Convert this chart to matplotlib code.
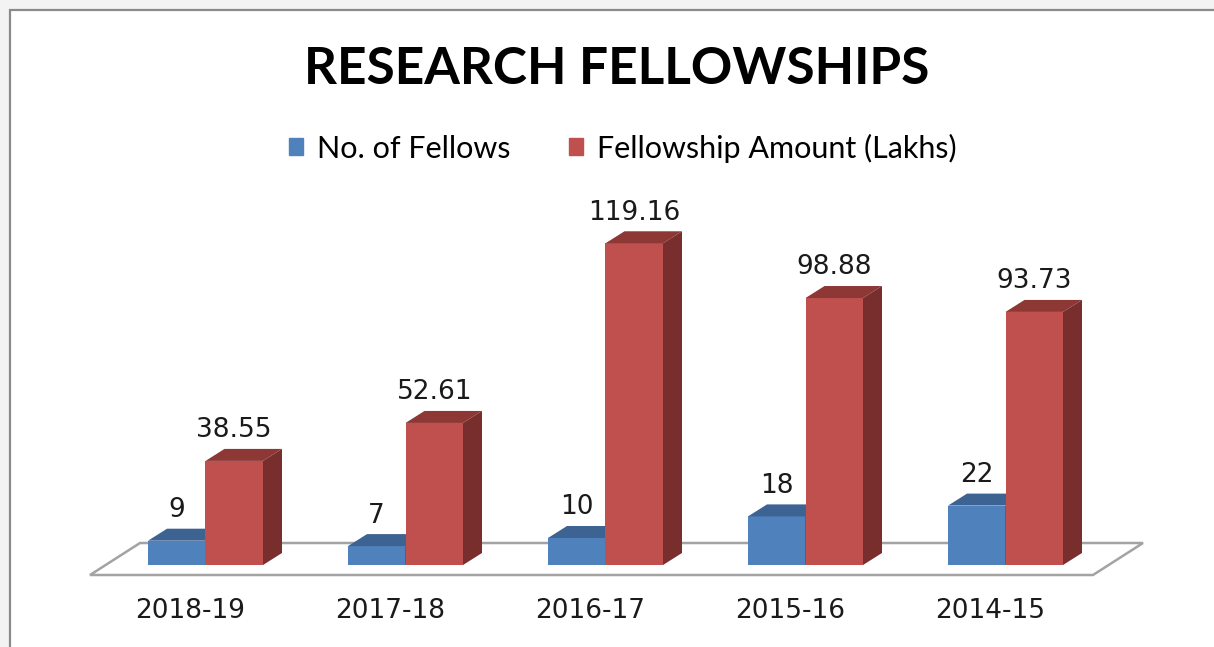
import matplotlib.pyplot as plt
from matplotlib.patches import Polygon, Rectangle

years = ["2018-19", "2017-18", "2016-17", "2015-16", "2014-15"]
fellows = [9, 7, 10, 18, 22]
amount = [38.55, 52.61, 119.16, 98.88, 93.73]

blue = "#4F81BD"
blue_top = "#3C6391"
red = "#C0504D"
red_top = "#8E3836"
red_side = "#782E2C"

W, H = 1214, 647
fig = plt.figure(figsize=(W / 100, H / 100), dpi=100)
fig.patch.set_facecolor("#f3f3f3")
fig.patches.append(Rectangle((10 / W, -0.02), 1.05, 1 - 10 / H + 0.02, transform=fig.transFigure,
                             facecolor="white", edgecolor="#8a8a8a", linewidth=1.6, zorder=-1))

# axes placed so 1 category = 200 px and 1 unit = 2.7 px
ppu = 2.7
ylo, yhi = -8, 150
xlo, xhi = -0.95, 4.95
left_px = 205.5 + xlo * 200
base_px = H - 565
ax = fig.add_axes([left_px / W, (base_px + ylo * ppu) / H,
                   (xhi - xlo) * 200 / W, (yhi - ylo) * ppu / H])
ax.set_xlim(xlo, xhi)
ax.set_ylim(ylo, yhi)
ax.patch.set_visible(False)
for s in ax.spines.values():
    s.set_visible(False)
ax.set_yticks([])

w = 0.2875
dx, dy = 19 / 200, 12 / ppu

# floor plate
n = len(years)
fx0, fx1 = -0.5775, n - 1 + 0.4375
fdx, fy0, fy1 = 0.25, -10 / ppu, 22 / ppu
ax.add_patch(Polygon([(fx0, fy0), (fx1, fy0), (fx1 + fdx, fy1), (fx0 + fdx, fy1)],
                     closed=True, facecolor="white", edgecolor="#a3a3a3", linewidth=1.8, zorder=1))


def bar3d(c, h, front, top, side):
    ax.bar(c, h, width=w, color=front, zorder=2)
    ax.add_patch(Polygon([(c - w / 2, h), (c + w / 2, h), (c + w / 2 + dx, h + dy), (c - w / 2 + dx, h + dy)],
                         closed=True, facecolor=top, edgecolor="none", zorder=2))
    ax.add_patch(Polygon([(c + w / 2, 0), (c + w / 2 + dx, dy), (c + w / 2 + dx, h + dy), (c + w / 2, h)],
                         closed=True, facecolor=side, edgecolor="none", zorder=2))


for i in range(n):
    bar3d(i - w / 2, fellows[i], blue, blue_top, "#2F4F75")
    bar3d(i + w / 2, amount[i], red, red_top, red_side)
    ax.annotate(str(fellows[i]), (i - w / 2, fellows[i]), xytext=(0, 22), textcoords="offset points",
                ha="center", va="center", fontsize=19, color="#1a1a1a")
    ax.annotate(f"{amount[i]:.2f}", (i + w / 2, amount[i]), xytext=(0, 22), textcoords="offset points",
                ha="center", va="center", fontsize=19, color="#1a1a1a")

ax.set_xticks([i - 0.075 for i in range(n)])
ax.set_xticklabels(years, fontsize=19, color="#1a1a1a")
ax.tick_params(axis="x", length=0, pad=8)

fig.text(617 / W, 1 - 70 / H, "RESEARCH FELLOWSHIPS", ha="center", va="center",
         fontsize=37, fontweight="bold", family="Lato")

handles = [Rectangle((0, 0), 1, 1, color=blue), Rectangle((0, 0), 1, 1, color=red)]
fig.legend(handles, ["No. of Fellows", "Fellowship Amount (Lakhs)"], loc="center",
           bbox_to_anchor=(623 / W, 1 - 148 / H), ncol=2, frameon=False,
           prop={"family": "Lato", "size": 22}, handlelength=0.46, handleheight=0.46,
           handletextpad=0.46, columnspacing=1.9)

fig.savefig("out.png", dpi=100, facecolor=fig.get_facecolor())
